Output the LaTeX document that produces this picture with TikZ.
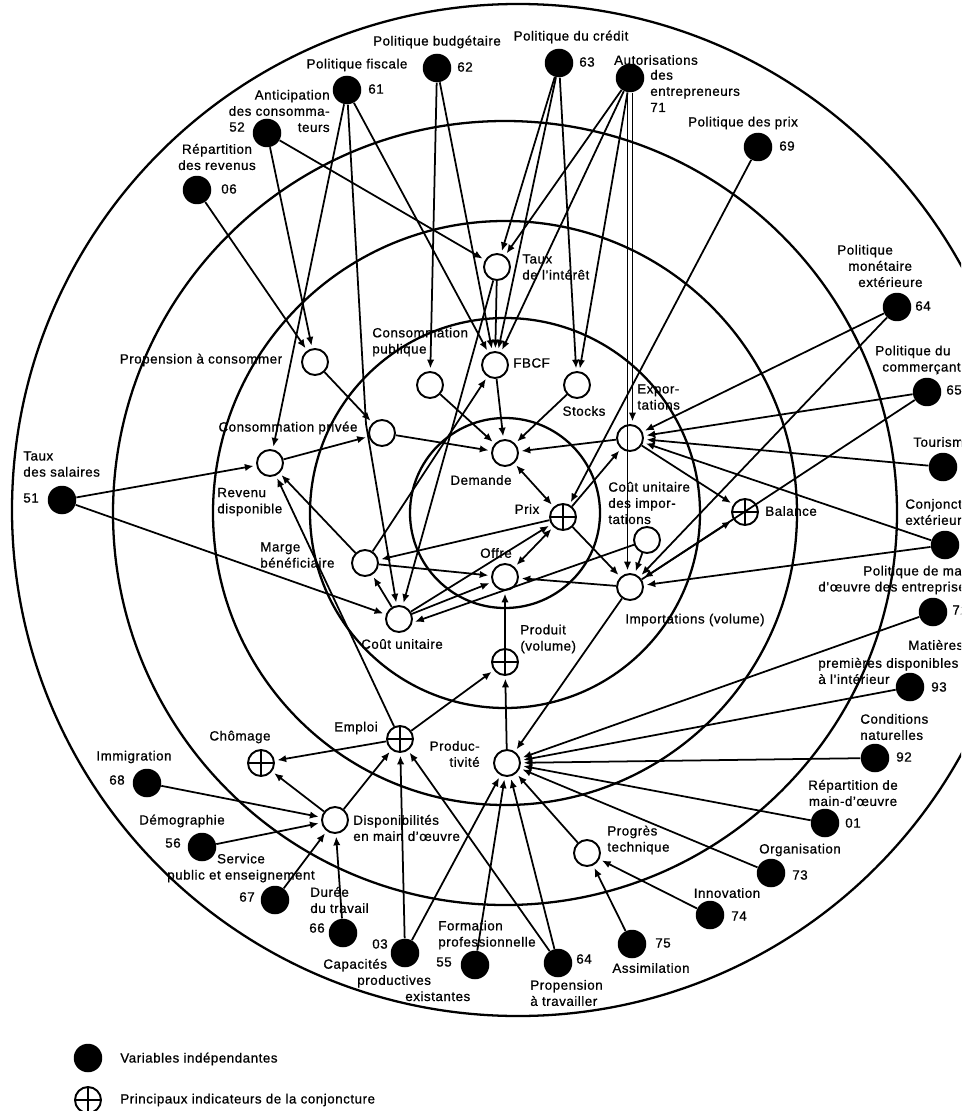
\documentclass[tikz,border=0pt]{standalone}
\usepackage{fontspec}
\setmainfont{Liberation Sans}[LetterSpace=4,FakeBold=0.8]
\usetikzlibrary{arrows.meta}
\tikzset{
  indep/.style={circle,fill=black,minimum size=0.57cm,inner sep=0pt},
  endo/.style={circle,draw,fill=white,line width=1.1pt,minimum size=0.52cm,inner sep=0pt},
  indic/.style={endo,path picture={\draw[line width=1.1pt] (path picture bounding box.north)--(path picture bounding box.south) (path picture bounding box.west)--(path picture bounding box.east);}},
  txt/.style={font=\fontsize{7.6}{9.2}\selectfont,inner sep=0pt,align=left},
  ring/.style={line width=1.3pt},
  link/.style={line width=1pt,-{Latex[length=5pt,width=4.2pt]},shorten >=1.5pt},
  biline/.style={line width=1pt,{Latex[length=5pt,width=4.2pt]}-{Latex[length=5pt,width=4.2pt]},shorten >=1.5pt,shorten <=1.5pt}
}
\begin{document}
\begin{tikzpicture}[x=0.02cm,y=-0.02cm]
\clip (0,0) rectangle (961,1111);
% cercles
\draw[ring] (518,510) circle[radius=506];
\foreach \r in {95,195,292,392} \draw[ring] (505,513) circle[radius=\r];

% variables independantes
\node[indep] (i52) at (267,133) {};
\node[indep] (i61) at (347,90) {};
\node[indep] (i62) at (437,68) {};
\node[indep] (i63) at (559,63) {};
\node[indep] (i71) at (630,78) {};
\node[indep] (i69) at (758,147) {};
\node[indep] (i64a) at (897,307) {};
\node[indep] (i65) at (927,392) {};
\node[indep] (itour) at (943,467) {};
\node[indep] (iconj) at (945,545) {};
\node[indep] (i72) at (933,612) {};
\node[indep] (i93) at (910,687) {};
\node[indep] (i92) at (875,758) {};
\node[indep] (i01) at (825,823) {};
\node[indep] (i73) at (771,873) {};
\node[indep] (i74) at (710,915) {};
\node[indep] (i75) at (632,944) {};
\node[indep] (i64b) at (558,963) {};
\node[indep] (i55) at (475,965) {};
\node[indep] (i03) at (405,953) {};
\node[indep] (i66) at (343,933) {};
\node[indep] (i67) at (275,900) {};
\node[indep] (i56) at (202,847) {};
\node[indep] (i68) at (147,783) {};
\node[indep] (i51) at (62,500) {};
\node[indep] (i06) at (197,190) {};

% variables du modele
\node[endo] (taux) at (497,267) {};
\node[endo] (fbcf) at (495,365) {};
\node[endo] (stocks) at (577,385) {};
\node[endo] (cpub) at (430,385) {};
\node[endo] (propc) at (315,362) {};
\node[endo] (cpriv) at (382,433) {};
\node[endo] (revdisp) at (270,463) {};
\node[endo] (demande) at (505,453) {};
\node[indic] (prix) at (563,517) {};
\node[endo] (export) at (630,438) {};
\node[indic] (balance) at (745,512) {};
\node[endo] (cuimp) at (647,540) {};
\node[endo] (import) at (630,587) {};
\node[endo] (offre) at (505,577) {};
\node[endo] (marge) at (365,563) {};
\node[endo] (cunit) at (399,619) {};
\node[indic] (produit) at (505,662) {};
\node[indic] (emploi) at (400,739) {};
\node[indic] (chomage) at (261,763) {};
\node[endo] (dispo) at (335,820) {};
\node[endo] (product) at (507,763) {};
\node[endo] (progres) at (587,853) {};

% textes des variables independantes
\node[txt,anchor=east,align=right] (l52) at (330,111) {Anticipation\\des consomma-\\teurs};
\node[txt] (n52) at (237,127) {52};
\node[txt] (l61) at (357,65) {Politique fiscale};
\node[txt] (n61) at (376,89) {61};
\node[txt] (l62) at (437,42) {Politique budgétaire};
\node[txt] (n62) at (465,67) {62};
\node[txt] (l63) at (571,37) {Politique du crédit};
\node[txt] (n63) at (587,62) {63};
\node[txt] (l71a) at (656,60) {Autorisations};
\node[txt,anchor=west] (l71b) at (650,91) {des\\entrepreneurs\\71};
\node[txt] (l69) at (743,123) {Politique des prix};
\node[txt] (n69) at (787,146) {69};
\node[txt,anchor=west] (l64a) at (837,266) {Politique\\\hspace*{0.22cm}monétaire\\\hspace*{0.42cm}extérieure};
\node[txt] (n64a) at (923,306) {64};
\node[txt,anchor=west] (l65) at (875,360) {Politique du\\\hspace*{0.14cm}commerçant};
\node[txt,anchor=west] (n65) at (946,390) {65};
\node[txt,anchor=west] (ltour) at (913,442) {Tourisme};
\node[txt,anchor=west] (lconj) at (905,512) {Conjoncture\\extérieure};
\node[txt,anchor=west] (l72a) at (863,572) {Politique de main-};
\node[txt,anchor=west] (l72b) at (818,588) {d'œuvre des entreprises};
\node[txt,anchor=west] (n72) at (952,610) {72};
\node[txt,anchor=west] (l93a) at (908,645) {Matières};
\node[txt,anchor=west] (l93b) at (818,671) {premières disponibles\\à l'intérieur};
\node[txt] (n93) at (939,687) {93};
\node[txt,anchor=west] (l92) at (860,727) {Conditions\\naturelles};
\node[txt] (n92) at (904,757) {92};
\node[txt,align=center] (l01) at (853,793) {Répartition de\\main-d'œuvre};
\node[txt] (n01) at (853,823) {01};
\node[txt] (l73) at (800,850) {Organisation};
\node[txt] (n73) at (800,875) {73};
\node[txt] (l74) at (727,893) {Innovation};
\node[txt] (n74) at (739,916) {74};
\node[txt] (n75) at (663,943) {75};
\node[txt] (l75) at (651,968) {Assimilation};
\node[txt] (n64b) at (584,959) {64};
\node[txt,anchor=west] (l64b) at (530,993) {Propension\\à travailler};
\node[txt,anchor=west] (l55) at (438,935) {Formation\\professionnelle};
\node[txt] (n55) at (444,962) {55};
\node[txt] (n03) at (380,944) {03};
\node[txt,anchor=west] (l03) at (323,980) {Capacités\\\hspace*{0.68cm}productives\\\hspace*{1.64cm}existantes};
\node[txt,anchor=west] (l66) at (310,900) {Durée\\du travail};
\node[txt] (n66) at (317,928) {66};
\node[txt,align=center] (l67) at (241,868) {Service\\public et enseignement};
\node[txt] (n67) at (247,897) {67};
\node[txt] (l56) at (182,821) {Démographie};
\node[txt] (n56) at (173,843) {56};
\node[txt] (l68) at (134,757) {Immigration};
\node[txt] (n68) at (117,780) {68};
\node[txt,anchor=west] (l51) at (23,464) {Taux\\des salaires};
\node[txt,anchor=west] (n51) at (23,498) {51};
\node[txt,align=center] (l06) at (217,157) {Répartition\\des revenus};
\node[txt] (n06) at (229,189) {06};

% textes des variables du modele
\node[txt,anchor=west] (ltaux) at (522,267) {Taux\\de l'intérêt};
\node[txt,anchor=west] (lfbcf) at (513,363) {FBCF};
\node[txt] (lstocks) at (584,411) {Stocks};
\node[txt,anchor=west] (lcpub) at (372,342) {Consommation\\publique};
\node[txt] (lpropc) at (201,360) {Propension à consommer};
\node[txt] (lcpriv) at (288,428) {Consommation privée};
\node[txt,anchor=west] (lrevdisp) at (217,502) {Revenu\\disponible};
\node[txt] (ldemande) at (481,480) {Demande};
\node[txt] (lprix) at (527,509) {Prix};
\node[txt,anchor=west] (lexport) at (637,397) {Expor-\\tations};
\node[txt,anchor=west] (lbalance) at (765,511) {Balance};
\node[txt,anchor=west] (lcuimp) at (608,503) {Coût unitaire\\des impor-\\tations};
\node[txt,anchor=west] (limport) at (625,620) {Importations (volume)};
\node[txt] (loffre) at (496,553) {Offre};
\node[txt,anchor=west] (lmarge) at (260,555) {Marge\\bénéficiaire};
\node[txt] (lcunit) at (402,644) {Coût unitaire};
\node[txt,anchor=west] (lproduit) at (520,639) {Produit\\(volume)};
\node[txt] (lemploi) at (356,728) {Emploi};
\node[txt] (lchomage) at (240,737) {Chômage};
\node[txt,anchor=west] (ldispo) at (353,828) {Disponibilités\\en main d'œuvre};
\node[txt,anchor=east,align=right] (lproduct) at (480,754) {Produc-\\tivité};
\node[txt,anchor=west] (lprogres) at (607,840) {Progrès\\technique};

% liaisons
\coordinate (bend61) at (366,424);
\draw[link] (i61) -- (bend61) -- (cunit);
\draw[link] ([xshift=0.05cm]i71.south) -- ([xshift=0.05cm]export.north);
\draw[link] ([xshift=-0.05cm]i71.south) -- ([xshift=-0.05cm]import.north);
\draw[link] (cuimp.200) -- (cunit.-15);
\foreach \a/\b in {i52/propc, i52/taux, i06/propc, i61/revdisp, i61/fbcf,
  i62/cpub, i62/fbcf, i63/taux, i63/fbcf, i63/stocks, i71/taux, i71/fbcf,
  i71/stocks, taux/fbcf, taux/cunit, i69/prix, fbcf/demande, cpub/demande,
  stocks/demande, cpriv/demande, export/demande, prix/import, prix/export,
  prix/marge, cunit/prix, cunit/offre, marge/offre, cunit/marge, marge/fbcf,
  marge/revdisp, i51/revdisp, i51/cunit, revdisp/cpriv, propc/cpriv,
  i64a/export, i65/export, itour/export, iconj/export, export/balance,
  import/balance, i64a/import, i65/import, iconj/import, cuimp/import,
  import/offre, import/product, produit/offre, product/produit,
  emploi/produit, emploi/chomage, dispo/chomage, dispo/emploi, emploi/revdisp,
  i68/dispo, i56/dispo, i67/dispo, i66/dispo, i03/emploi, i03/product,
  i55/product, i64b/emploi, i64b/product, progres/product, i74/progres,
  i75/progres, i73/product, i01/product, i92/product, i93/product, i72/product}
  \draw[link] (\a) -- (\b);
\draw[biline] (demande) -- (prix);
\draw[biline] (offre) -- (prix);

% legende
\node[indep] (kindep) at (88,1058) {};
\node[txt,anchor=west] (lkindep) at (120,1059) {Variables indépendantes};
\node[indic] (kindic) at (88,1100) {};
\node[txt,anchor=west] (lkindic) at (120,1100) {Principaux indicateurs de la conjoncture};
\end{tikzpicture}
\end{document}
